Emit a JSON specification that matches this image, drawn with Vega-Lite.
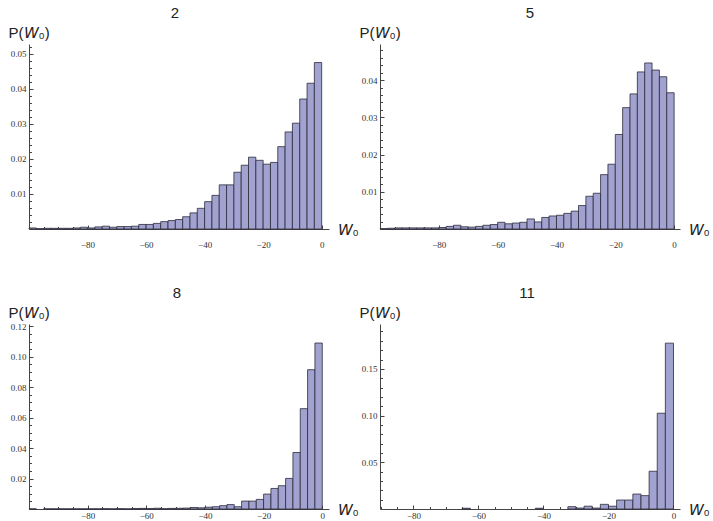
{
  "$schema": "https://vega.github.io/schema/vega-lite/v6.json",
  "padding": {"left": 8, "top": 6, "right": 0, "bottom": 0},
  "autosize": {"type": "pad"},
  "background": "white",
  "datasets": {
    "d2": [
      {"start": -100, "end": -97.5, "p": 0.0003}, {"start": -97.5, "end": -95, "p": 0.0001},
      {"start": -95, "end": -92.5, "p": 0.0002}, {"start": -92.5, "end": -90, "p": 0.0002},
      {"start": -90, "end": -87.5, "p": 0.0002}, {"start": -87.5, "end": -85, "p": 0.0002},
      {"start": -85, "end": -82.5, "p": 0.0003}, {"start": -82.5, "end": -80, "p": 0.0005},
      {"start": -80, "end": -77.5, "p": 0.0003}, {"start": -77.5, "end": -75, "p": 0.0006},
      {"start": -75, "end": -72.5, "p": 0.0008}, {"start": -72.5, "end": -70, "p": 0.0005},
      {"start": -70, "end": -67.5, "p": 0.0007}, {"start": -67.5, "end": -65, "p": 0.0007},
      {"start": -65, "end": -62.5, "p": 0.0008}, {"start": -62.5, "end": -60, "p": 0.0013},
      {"start": -60, "end": -57.5, "p": 0.0013}, {"start": -57.5, "end": -55, "p": 0.0016},
      {"start": -55, "end": -52.5, "p": 0.0021}, {"start": -52.5, "end": -50, "p": 0.0024},
      {"start": -50, "end": -47.5, "p": 0.0027}, {"start": -47.5, "end": -45, "p": 0.0035},
      {"start": -45, "end": -42.5, "p": 0.0046}, {"start": -42.5, "end": -40, "p": 0.0059},
      {"start": -40, "end": -37.5, "p": 0.0078}, {"start": -37.5, "end": -35, "p": 0.0096},
      {"start": -35, "end": -32.5, "p": 0.0126}, {"start": -32.5, "end": -30, "p": 0.0126},
      {"start": -30, "end": -27.5, "p": 0.0162}, {"start": -27.5, "end": -25, "p": 0.0182},
      {"start": -25, "end": -22.5, "p": 0.0205}, {"start": -22.5, "end": -20, "p": 0.0196},
      {"start": -20, "end": -17.5, "p": 0.0185}, {"start": -17.5, "end": -15, "p": 0.019},
      {"start": -15, "end": -12.5, "p": 0.0235}, {"start": -12.5, "end": -10, "p": 0.0277},
      {"start": -10, "end": -7.5, "p": 0.0302}, {"start": -7.5, "end": -5, "p": 0.0371},
      {"start": -5, "end": -2.5, "p": 0.0416}, {"start": -2.5, "end": 0, "p": 0.0475}
    ],
    "d5": [
      {"start": -100, "end": -97.5, "p": 0.0001}, {"start": -97.5, "end": -95, "p": 0.0002},
      {"start": -95, "end": -92.5, "p": 0.0003}, {"start": -92.5, "end": -90, "p": 0.0003},
      {"start": -90, "end": -87.5, "p": 0.0003}, {"start": -87.5, "end": -85, "p": 0.0003},
      {"start": -85, "end": -82.5, "p": 0.0003}, {"start": -82.5, "end": -80, "p": 0.0003},
      {"start": -80, "end": -77.5, "p": 0.0004}, {"start": -77.5, "end": -75, "p": 0.0007},
      {"start": -75, "end": -72.5, "p": 0.001}, {"start": -72.5, "end": -70, "p": 0.0006},
      {"start": -70, "end": -67.5, "p": 0.0005}, {"start": -67.5, "end": -65, "p": 0.0007},
      {"start": -65, "end": -62.5, "p": 0.001}, {"start": -62.5, "end": -60, "p": 0.0012},
      {"start": -60, "end": -57.5, "p": 0.0018}, {"start": -57.5, "end": -55, "p": 0.0014},
      {"start": -55, "end": -52.5, "p": 0.0016}, {"start": -52.5, "end": -50, "p": 0.0018},
      {"start": -50, "end": -47.5, "p": 0.0027}, {"start": -47.5, "end": -45, "p": 0.0019},
      {"start": -45, "end": -42.5, "p": 0.0031}, {"start": -42.5, "end": -40, "p": 0.0035},
      {"start": -40, "end": -37.5, "p": 0.0037}, {"start": -37.5, "end": -35, "p": 0.0042},
      {"start": -35, "end": -32.5, "p": 0.0048}, {"start": -32.5, "end": -30, "p": 0.0063},
      {"start": -30, "end": -27.5, "p": 0.0088}, {"start": -27.5, "end": -25, "p": 0.0096},
      {"start": -25, "end": -22.5, "p": 0.0146}, {"start": -22.5, "end": -20, "p": 0.0174},
      {"start": -20, "end": -17.5, "p": 0.0254}, {"start": -17.5, "end": -15, "p": 0.0326},
      {"start": -15, "end": -12.5, "p": 0.0363}, {"start": -12.5, "end": -10, "p": 0.0422},
      {"start": -10, "end": -7.5, "p": 0.0446}, {"start": -7.5, "end": -5, "p": 0.0427},
      {"start": -5, "end": -2.5, "p": 0.0409}, {"start": -2.5, "end": 0, "p": 0.0366}
    ],
    "d8": [
      {"start": -100, "end": -97.5, "p": 0.0001}, {"start": -95, "end": -92.5, "p": 0.0001},
      {"start": -92.5, "end": -90, "p": 0.0001}, {"start": -90, "end": -87.5, "p": 0.0001},
      {"start": -87.5, "end": -85, "p": 0.0001}, {"start": -85, "end": -82.5, "p": 0.0001},
      {"start": -82.5, "end": -80, "p": 0.0001}, {"start": -80, "end": -77.5, "p": 0.0001},
      {"start": -77.5, "end": -75, "p": 0.0001}, {"start": -75, "end": -72.5, "p": 0.0002},
      {"start": -72.5, "end": -70, "p": 0.0001}, {"start": -70, "end": -67.5, "p": 0.0002},
      {"start": -67.5, "end": -65, "p": 0.0001}, {"start": -65, "end": -62.5, "p": 0.0003},
      {"start": -62.5, "end": -60, "p": 0.0004}, {"start": -60, "end": -57.5, "p": 0.0003},
      {"start": -57.5, "end": -55, "p": 0.0005}, {"start": -55, "end": -52.5, "p": 0.0002},
      {"start": -52.5, "end": -50, "p": 0.0004}, {"start": -50, "end": -47.5, "p": 0.0005},
      {"start": -47.5, "end": -45, "p": 0.0006}, {"start": -45, "end": -42.5, "p": 0.001},
      {"start": -42.5, "end": -40, "p": 0.0008}, {"start": -40, "end": -37.5, "p": 0.0012},
      {"start": -37.5, "end": -35, "p": 0.0015}, {"start": -35, "end": -32.5, "p": 0.0022},
      {"start": -32.5, "end": -30, "p": 0.0029}, {"start": -30, "end": -27.5, "p": 0.0015},
      {"start": -27.5, "end": -25, "p": 0.0052}, {"start": -25, "end": -22.5, "p": 0.0052},
      {"start": -22.5, "end": -20, "p": 0.0063}, {"start": -20, "end": -17.5, "p": 0.0098},
      {"start": -17.5, "end": -15, "p": 0.0135}, {"start": -15, "end": -12.5, "p": 0.0153},
      {"start": -12.5, "end": -10, "p": 0.0201}, {"start": -10, "end": -7.5, "p": 0.0371},
      {"start": -7.5, "end": -5, "p": 0.0659}, {"start": -5, "end": -2.5, "p": 0.0915},
      {"start": -2.5, "end": 0, "p": 0.109}
    ],
    "d11": [
      {"start": -65, "end": -62.5, "p": 0.0008},
      {"start": -42.5, "end": -40, "p": 0.0008},
      {"start": -32.5, "end": -30, "p": 0.0025}, {"start": -30, "end": -27.5, "p": 0.001},
      {"start": -27.5, "end": -25, "p": 0.003}, {"start": -25, "end": -22.5, "p": 0.001},
      {"start": -22.5, "end": -20, "p": 0.005}, {"start": -20, "end": -17.5, "p": 0.003},
      {"start": -17.5, "end": -15, "p": 0.0096}, {"start": -15, "end": -12.5, "p": 0.0096},
      {"start": -12.5, "end": -10, "p": 0.016}, {"start": -10, "end": -7.5, "p": 0.0143},
      {"start": -7.5, "end": -5, "p": 0.0404}, {"start": -5, "end": -2.5, "p": 0.1025},
      {"start": -2.5, "end": 0, "p": 0.1775}
    ]
  },
  "vconcat": [
    {
      "spacing": 0,
      "hconcat": [
        {
          "width": 300, "height": 185,
          "title": {"text": "2", "dx": -4},
          "data": {"name": "d2"},
          "layer": [
            {
              "mark": {"type": "bar"},
              "encoding": {
                "x": {"field": "start", "type": "quantitative", "scale": {"domain": [-100, 2.5], "nice": false, "zero": false},
                      "axis": {"values": [-80, -60, -40, -20, 0], "ticks": false, "title": "𝘞₀"}},
                "x2": {"field": "end"},
                "y": {"field": "p", "type": "quantitative", "scale": {"domain": [0, 0.0528], "nice": false},
                      "axis": {"values": [0.01, 0.02, 0.03, 0.04, 0.05], "format": ".2f", "ticks": false, "title": "P(𝘞₀)"}},
                "y2": {"datum": 0}
              }
            },
            {
              "mark": {"type": "bar", "opacity": 0},
              "encoding": {
                "x": {"field": "start", "type": "quantitative",
                      "axis": {"orient": "bottom", "values": [-95, -90, -85, -80, -75, -70, -65, -60, -55, -50, -45, -40, -35, -30, -25, -20, -15, -10, -5, 0],
                               "labels": false, "domain": false, "title": null,
                               "tickSize": {"condition": {"test": "datum.value % 20 === 0", "value": -4}, "value": -2.5}}},
                "x2": {"field": "end"},
                "y": {"field": "p", "type": "quantitative",
                      "axis": {"orient": "left", "values": [0.002, 0.004, 0.006, 0.008, 0.01, 0.012, 0.014, 0.016, 0.018, 0.02, 0.022, 0.024, 0.026, 0.028, 0.03, 0.032, 0.034, 0.036, 0.038, 0.04, 0.042, 0.044, 0.046, 0.048, 0.05, 0.052],
                               "labels": false, "domain": false, "title": null,
                               "tickSize": {"condition": {"test": "abs(datum.value * 100 - round(datum.value * 100)) < 0.001", "value": -4}, "value": -2.5}}},
                "y2": {"datum": 0}
              }
            }
          ],
          "resolve": {"axis": {"x": "independent", "y": "independent"}}
        },
        {
          "width": 300, "height": 185,
          "title": {"text": "5"},
          "data": {"name": "d5"},
          "layer": [
            {
              "mark": {"type": "bar"},
              "encoding": {
                "x": {"field": "start", "type": "quantitative", "scale": {"domain": [-100, 2], "nice": false, "zero": false},
                      "axis": {"values": [-80, -60, -40, -20, 0], "ticks": false, "title": "𝘞₀"}},
                "x2": {"field": "end"},
                "y": {"field": "p", "type": "quantitative", "scale": {"domain": [0, 0.0497], "nice": false},
                      "axis": {"values": [0.01, 0.02, 0.03, 0.04], "format": ".2f", "ticks": false, "title": "P(𝘞₀)"}},
                "y2": {"datum": 0}
              }
            },
            {
              "mark": {"type": "bar", "opacity": 0},
              "encoding": {
                "x": {"field": "start", "type": "quantitative",
                      "axis": {"orient": "bottom", "values": [-95, -90, -85, -80, -75, -70, -65, -60, -55, -50, -45, -40, -35, -30, -25, -20, -15, -10, -5, 0],
                               "labels": false, "domain": false, "title": null,
                               "tickSize": {"condition": {"test": "datum.value % 20 === 0", "value": -4}, "value": -2.5}}},
                "x2": {"field": "end"},
                "y": {"field": "p", "type": "quantitative",
                      "axis": {"orient": "left", "values": [0.002, 0.004, 0.006, 0.008, 0.01, 0.012, 0.014, 0.016, 0.018, 0.02, 0.022, 0.024, 0.026, 0.028, 0.03, 0.032, 0.034, 0.036, 0.038, 0.04, 0.042, 0.044, 0.046, 0.048],
                               "labels": false, "domain": false, "title": null,
                               "tickSize": {"condition": {"test": "abs(datum.value * 100 - round(datum.value * 100)) < 0.001", "value": -4}, "value": -2.5}}},
                "y2": {"datum": 0}
              }
            }
          ],
          "resolve": {"axis": {"x": "independent", "y": "independent"}}
        }
      ]
    },
    {
      "spacing": 0,
      "hconcat": [
        {
          "width": 300, "height": 185,
          "title": {"text": "8", "dx": -2},
          "data": {"name": "d8"},
          "layer": [
            {
              "mark": {"type": "bar"},
              "encoding": {
                "x": {"field": "start", "type": "quantitative", "scale": {"domain": [-100, 2.3], "nice": false, "zero": false},
                      "axis": {"values": [-80, -60, -40, -20, 0], "ticks": false, "title": "𝘞₀", "labelPadding": 2}},
                "x2": {"field": "end"},
                "y": {"field": "p", "type": "quantitative", "scale": {"domain": [0, 0.1215], "nice": false},
                      "axis": {"values": [0.02, 0.04, 0.06, 0.08, 0.1, 0.12], "format": ".2f", "ticks": false, "title": "P(𝘞₀)"}},
                "y2": {"datum": 0}
              }
            },
            {
              "mark": {"type": "bar", "opacity": 0},
              "encoding": {
                "x": {"field": "start", "type": "quantitative",
                      "axis": {"orient": "bottom", "values": [-95, -90, -85, -80, -75, -70, -65, -60, -55, -50, -45, -40, -35, -30, -25, -20, -15, -10, -5, 0],
                               "labels": false, "domain": false, "title": null,
                               "tickSize": {"condition": {"test": "datum.value % 20 === 0", "value": -4}, "value": -2.5}}},
                "x2": {"field": "end"},
                "y": {"field": "p", "type": "quantitative",
                      "axis": {"orient": "left", "values": [0.005, 0.01, 0.015, 0.02, 0.025, 0.03, 0.035, 0.04, 0.045, 0.05, 0.055, 0.06, 0.065, 0.07, 0.075, 0.08, 0.085, 0.09, 0.095, 0.1, 0.105, 0.11, 0.115, 0.12],
                               "labels": false, "domain": false, "title": null,
                               "tickSize": {"condition": {"test": "abs(datum.value * 50 - round(datum.value * 50)) < 0.001", "value": -4}, "value": -2.5}}},
                "y2": {"datum": 0}
              }
            }
          ],
          "resolve": {"axis": {"x": "independent", "y": "independent"}}
        },
        {
          "width": 300, "height": 185,
          "title": {"text": "11", "dx": -3},
          "data": {"name": "d11"},
          "layer": [
            {
              "mark": {"type": "bar"},
              "encoding": {
                "x": {"field": "start", "type": "quantitative", "scale": {"domain": [-90.3, 2], "nice": false, "zero": false},
                      "axis": {"values": [-80, -60, -40, -20, 0], "ticks": false, "title": "𝘞₀", "labelPadding": 2}},
                "x2": {"field": "end"},
                "y": {"field": "p", "type": "quantitative", "scale": {"domain": [0, 0.198], "nice": false},
                      "axis": {"values": [0.05, 0.1, 0.15], "format": ".2f", "ticks": false, "title": "P(𝘞₀)"}},
                "y2": {"datum": 0}
              }
            },
            {
              "mark": {"type": "bar", "opacity": 0},
              "encoding": {
                "x": {"field": "start", "type": "quantitative",
                      "axis": {"orient": "bottom", "values": [-90, -85, -80, -75, -70, -65, -60, -55, -50, -45, -40, -35, -30, -25, -20, -15, -10, -5, 0],
                               "labels": false, "domain": false, "title": null,
                               "tickSize": {"condition": {"test": "datum.value % 20 === 0", "value": -4}, "value": -2.5}}},
                "x2": {"field": "end"},
                "y": {"field": "p", "type": "quantitative",
                      "axis": {"orient": "left", "values": [0.01, 0.02, 0.03, 0.04, 0.05, 0.06, 0.07, 0.08, 0.09, 0.1, 0.11, 0.12, 0.13, 0.14, 0.15, 0.16, 0.17, 0.18, 0.19],
                               "labels": false, "domain": false, "title": null,
                               "tickSize": {"condition": {"test": "abs(datum.value * 20 - round(datum.value * 20)) < 0.001", "value": -4}, "value": -2.5}}},
                "y2": {"datum": 0}
              }
            }
          ],
          "resolve": {"axis": {"x": "independent", "y": "independent"}}
        }
      ]
    }
  ],
  "spacing": 37,
  "config": {
    "view": {"stroke": null},
    "bar": {"fill": "#a2a2d0", "stroke": "#2b2b3b", "strokeWidth": 0.8},
    "title": {"font": "Liberation Sans", "fontSize": 15, "fontWeight": "normal", "color": "#222222", "offset": 4, "anchor": "middle"},
    "axis": {
      "grid": false,
      "domainColor": "#444444", "domainWidth": 1,
      "tickColor": "#444444", "tickWidth": 1,
      "labelFont": "Liberation Serif", "labelFontSize": 9, "labelColor": "#333333", "labelPadding": 3,
      "titleFont": "Liberation Sans", "titleFontSize": 15, "titleFontWeight": "normal", "titleColor": "#222222"
    },
    "axisX": {"titleX": 308, "titleY": 0, "titleAlign": "left", "titleBaseline": "middle", "titleAngle": 0, "labelFlush": false, "labelPadding": 11},
    "axisY": {"titleX": -21, "titleY": -12, "titleAlign": "left", "titleBaseline": "middle", "titleAngle": 0}
  }
}
